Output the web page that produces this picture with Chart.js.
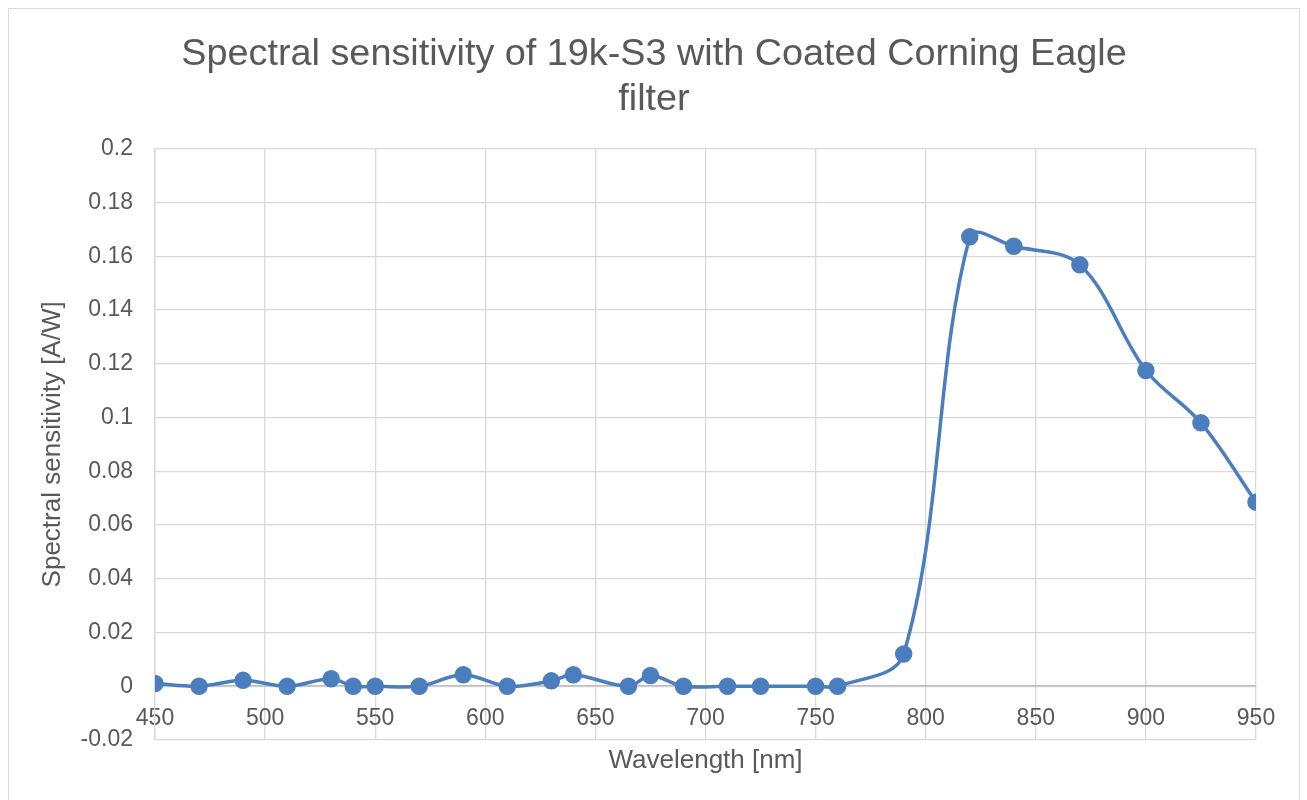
<!DOCTYPE html>
<html>
<head>
<meta charset="utf-8">
<script src="https://cdn.jsdelivr.net/npm/chart.js@4/dist/chart.umd.min.js"></script>
<style>
  body { margin: 0; background: #fff; }
  #box { position: absolute; left: 8px; top: 8px; width: 1292px; height: 800px; border: 1px solid #d9d9d9; box-sizing: border-box; }
  canvas { display: block; }
</style>
</head>
<body>
<div id="box"><canvas id="myChart" width="1290" height="791"></canvas></div>
<script>
// wavelength [nm]
var wavelengths = [450, 470, 490, 510, 530, 540, 550, 570, 590, 610, 630, 640, 665, 675, 690, 710, 725, 750, 760, 790, 820, 840, 870, 900, 925, 950];
// spectral sensitivity [A/W]
var sensitivity = [0.001, 0, 0.0022, 0, 0.0028, 0, 0, 0, 0.0043, 0, 0.002, 0.0043, 0, 0.004, 0, 0, 0, 0, 0, 0.012, 0.1672, 0.1637, 0.1568, 0.1175, 0.098, 0.0685];

var titleLines = ['Spectral sensitivity of 19k-S3 with Coated Corning Eagle', 'filter'];
var xTitle = 'Wavelength [nm]';
var yTitle = 'Spectral sensitivity [A/W]';

window.onload = function() {
  var ctx = document.getElementById('myChart').getContext('2d');
  var font = '"Liberation Sans", Arial, Helvetica, sans-serif';
  var textColor = '#595959';
  var gridColor = '#d9d9d9';

  var points = [];
  for (var i = 0; i < wavelengths.length; i++) {
    points.push({x: wavelengths[i], y: sensitivity[i]});
  }

  var params = {
    type: 'line',
    data: {
      datasets: [
        {
          label: 'sensitivity',
          data: points,
          fill: false,
          borderColor: '#4a7ebf',
          backgroundColor: '#4a7ebf',
          borderWidth: 3.5,
          pointRadius: 7,
          pointHoverRadius: 7,
          tension: 0.35,
        },
      ],
    },
    options: {
      responsive: false,
      animation: false,
      // symmetric side padding keeps the title centred on the canvas
      layout: { padding: { left: 43, right: 43, top: 0, bottom: 20 } },
      plugins: {
        legend: { display: false },
        tooltip: { enabled: false },
        title: {
          display: true,
          text: titleLines,
          color: textColor,
          font: { family: font, size: 37.8, weight: 'normal', lineHeight: 1.2 },
          padding: { top: 23, bottom: 26 },
        },
      },
      scales: {
        x: {
          type: 'linear',
          position: { y: 0 },
          min: 450,
          max: 950,
          afterFit: function(s) { s.height = 0; },
          ticks: {
            stepSize: 50,
            color: textColor,
            padding: 19,
            font: { family: font, size: 23 },
            maxRotation: 0,
          },
          grid: { color: gridColor, lineWidth: 1.3, drawTicks: false },
          border: { color: '#bfbfbf', width: 1.5 },
        },
        x2: {
          type: 'linear',
          axis: 'x',
          position: 'bottom',
          min: 450,
          max: 950,
          afterFit: function(s) { s.height = 40; },
          ticks: { display: false },
          grid: { display: false },
          border: { display: false },
          title: {
            display: true,
            text: xTitle,
            color: textColor,
            font: { family: font, size: 26 },
            padding: { top: 0, bottom: 4 },
          },
        },
        y: {
          min: -0.02,
          max: 0.2,
          afterFit: function(s) { s.width = 103; },
          ticks: {
            stepSize: 0.02,
            color: textColor,
            padding: 22,
            font: { family: font, size: 23 },
            callback: function(v) { return (Math.round(v * 100) / 100).toString(); },
          },
          grid: { color: gridColor, lineWidth: 1.3, drawTicks: false },
          border: { color: gridColor, width: 1.3 },
          title: {
            display: true,
            text: yTitle,
            color: textColor,
            font: { family: font, size: 26 },
            padding: { top: -15, bottom: 0 },
          },
        },
      },
    },
  };

  var chart = new Chart(ctx, params);
};
</script>
</body>
</html>
